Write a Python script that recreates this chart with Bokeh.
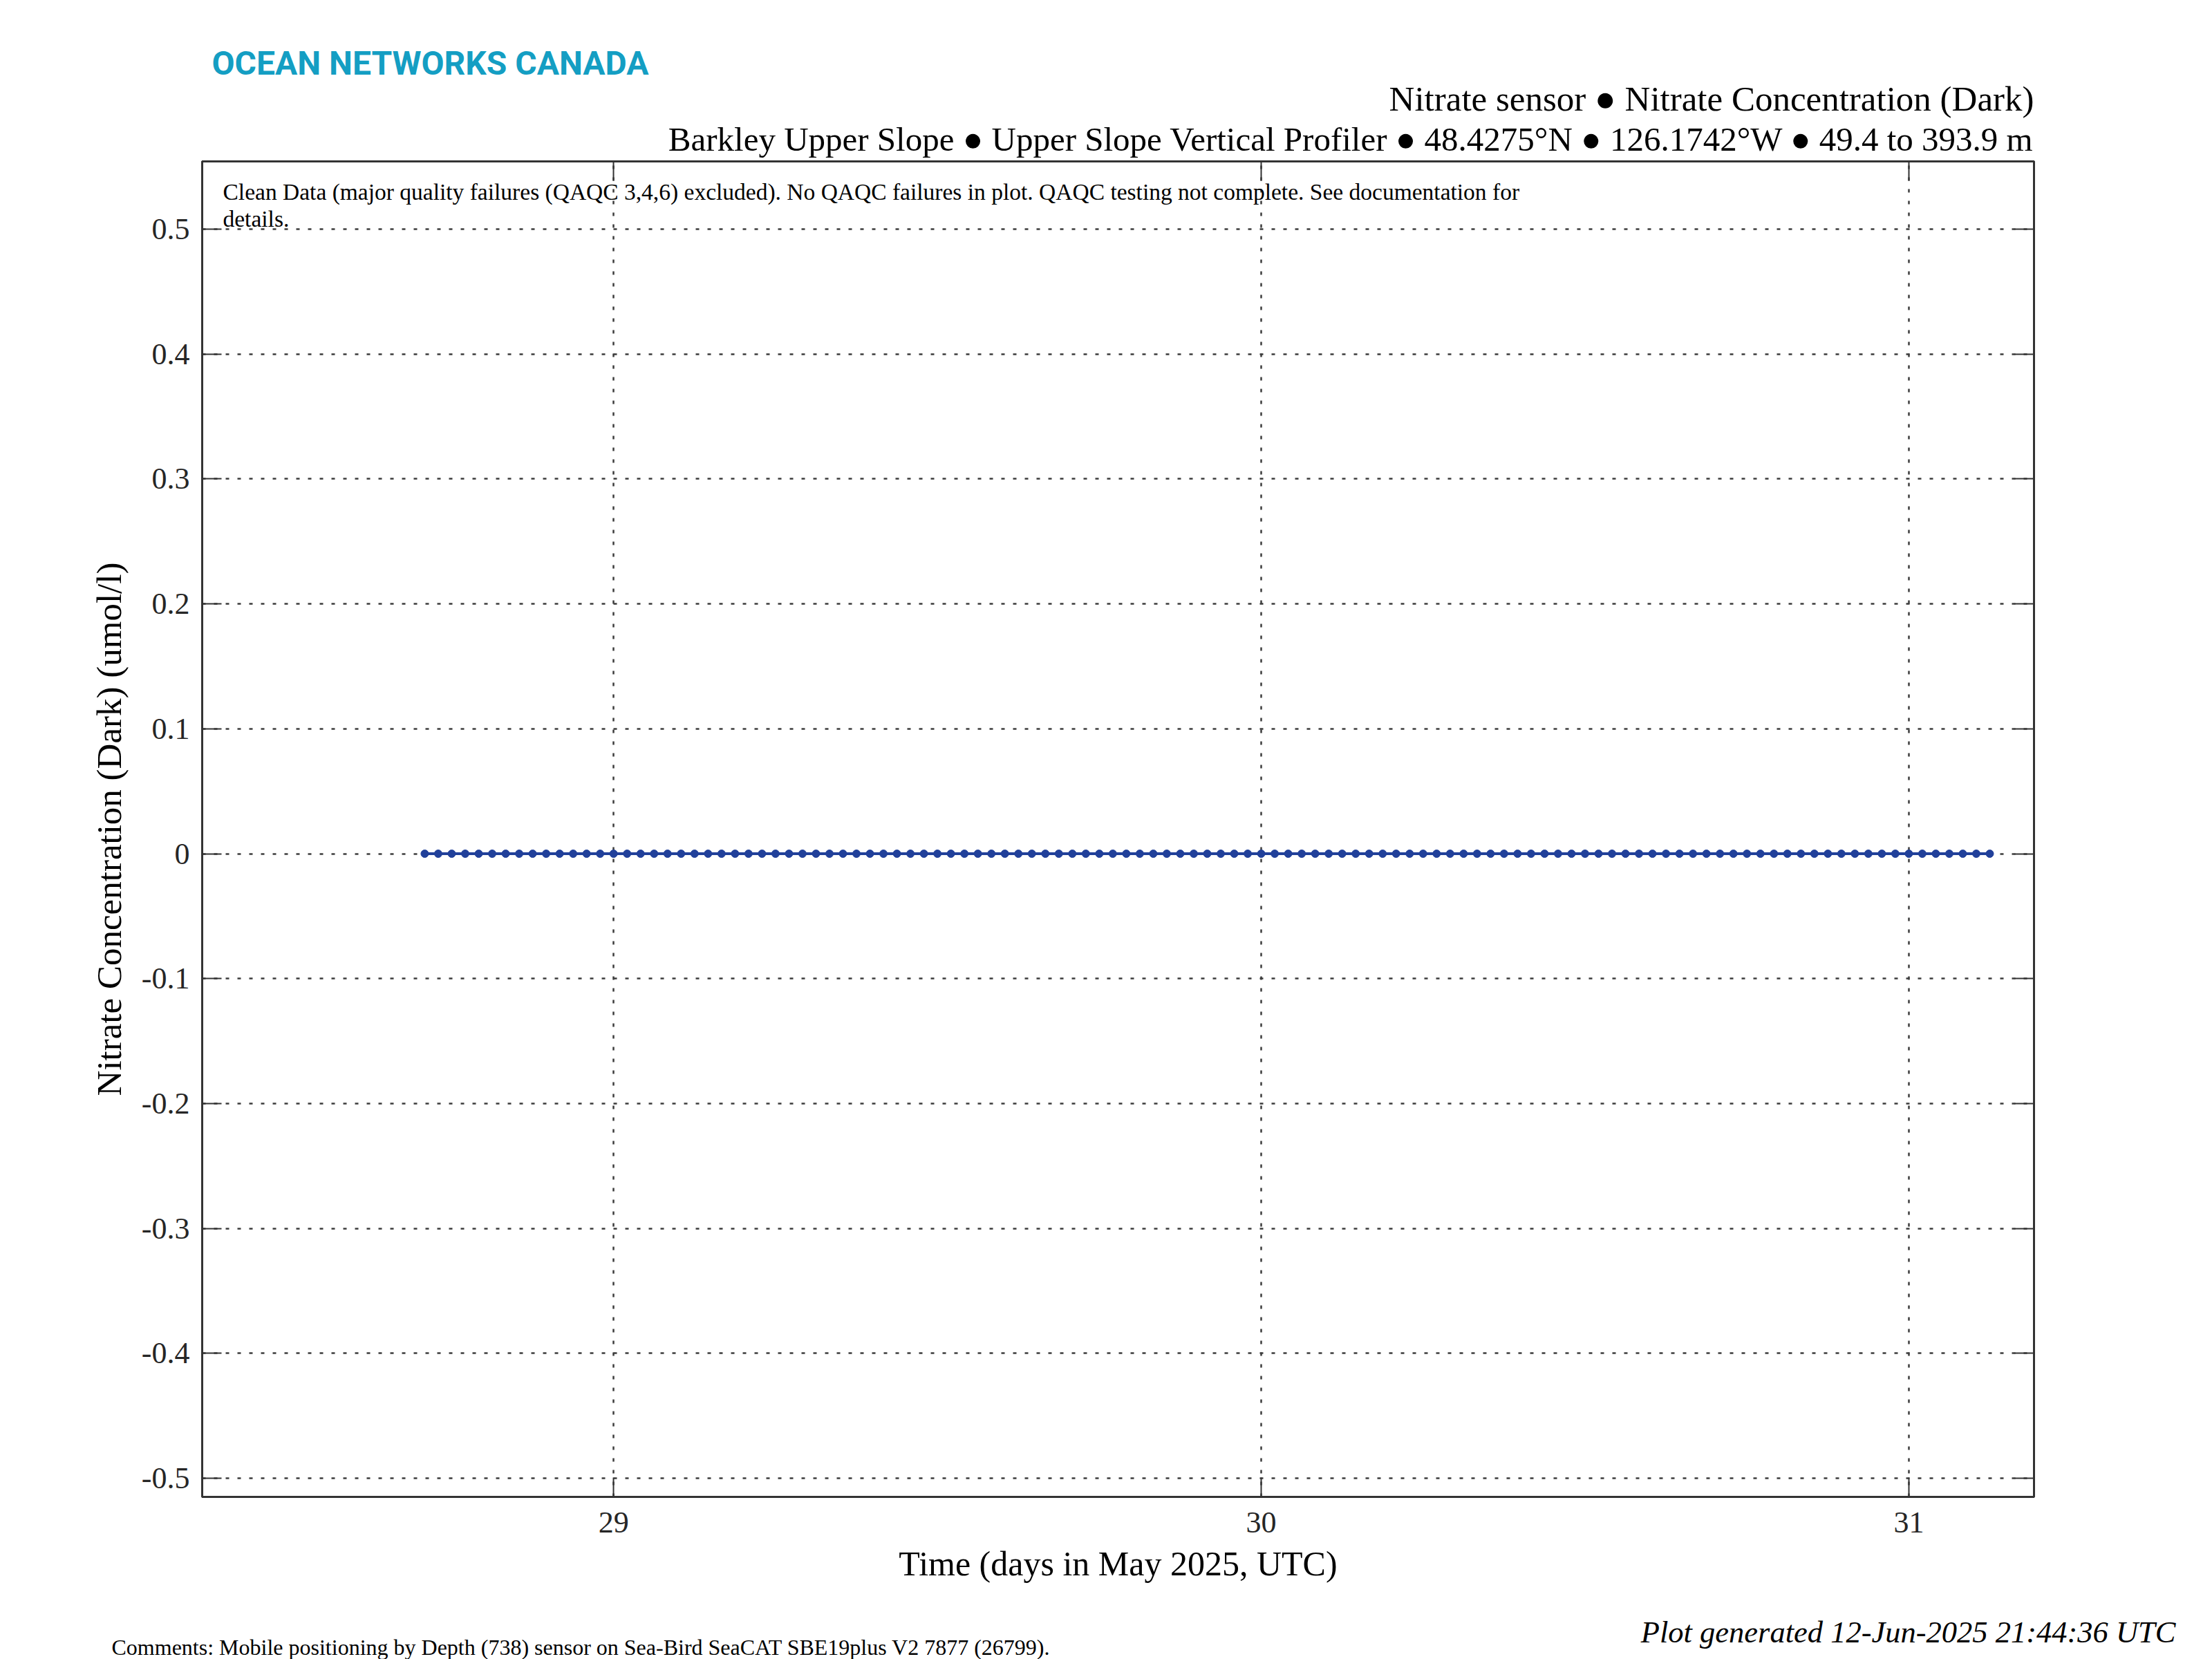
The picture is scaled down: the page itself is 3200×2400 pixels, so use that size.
import pandas as pd
from bokeh.plotting import figure
from bokeh.layouts import column, row
from bokeh.models import Label, LinearAxis, FixedTicker, CustomJSTickFormatter, Range1d, Plot
from bokeh.embed import file_html
from bokeh.resources import INLINE

# ---------------- data ----------------
time_start = "2025-05-28 17:00"
time_end = "2025-05-31 03:00"
sample_interval = "30min"
nitrate_dark = [
    0.0, 0.0, 0.0, 0.0, 0.0, 0.0, 0.0, 0.0, 0.0, 0.0, 0.0, 0.0, 0.0, 0.0, 0.0, 0.0,
    0.0, 0.0, 0.0, 0.0, 0.0, 0.0, 0.0, 0.0, 0.0, 0.0, 0.0, 0.0, 0.0, 0.0, 0.0, 0.0,
    0.0, 0.0, 0.0, 0.0, 0.0, 0.0, 0.0, 0.0, 0.0, 0.0, 0.0, 0.0, 0.0, 0.0, 0.0, 0.0,
    0.0, 0.0, 0.0, 0.0, 0.0, 0.0, 0.0, 0.0, 0.0, 0.0, 0.0, 0.0, 0.0, 0.0, 0.0, 0.0,
    0.0, 0.0, 0.0, 0.0, 0.0, 0.0, 0.0, 0.0, 0.0, 0.0, 0.0, 0.0, 0.0, 0.0, 0.0, 0.0,
    0.0, 0.0, 0.0, 0.0, 0.0, 0.0, 0.0, 0.0, 0.0, 0.0, 0.0, 0.0, 0.0, 0.0, 0.0, 0.0,
    0.0, 0.0, 0.0, 0.0, 0.0, 0.0, 0.0, 0.0, 0.0, 0.0, 0.0, 0.0, 0.0, 0.0, 0.0, 0.0,
    0.0, 0.0, 0.0, 0.0, 0.0,
]
x_ticks = [29, 30, 31]
x_tick_labels = ["29", "30", "31"]
y_ticks = [-0.5, -0.4, -0.3, -0.2, -0.1, 0, 0.1, 0.2, 0.3, 0.4, 0.5]
y_tick_labels = ["-0.5", "-0.4", "-0.3", "-0.2", "-0.1", "0", "0.1", "0.2", "0.3", "0.4", "0.5"]
x_limits = (28.3647, 31.1933)
y_limits = (-0.515, 0.5543)

logo_text = "OCEAN NETWORKS CANADA"
title_line1 = "Nitrate sensor \u25cf Nitrate Concentration (Dark)"
title_line2 = ("Barkley Upper Slope \u25cf Upper Slope Vertical Profiler \u25cf "
               "48.4275\u00b0N \u25cf 126.1742\u00b0W \u25cf 49.4 to 393.9 m")
note_line1 = ("Clean Data (major quality failures (QAQC 3,4,6) excluded). No QAQC failures in plot. "
              "QAQC testing not complete. See documentation for")
note_line2 = "details."
x_label = "Time (days in May 2025, UTC)"
y_label = "Nitrate Concentration (Dark) (umol/l)"
comments = "Comments: Mobile positioning by Depth (738) sensor on Sea-Bird SeaCAT SBE19plus V2 7877 (26799)."
generated = "Plot generated 12-Jun-2025 21:44:36 UTC"

times = pd.date_range(time_start, time_end, freq=sample_interval)
day_of_month = (times.day + times.hour / 24.0 + times.minute / 1440.0).tolist()

# ---------------- styling ----------------
SERIF = "Liberation Serif"
AX = "#333333"
BLUE = "#21409A"
W = 3200
HEADER_H, FOOTER_H = 231, 70
FL, FT, FW, FH = 292, 233, 2650, 1932     # frame left/top/width/height in page pixels
MAIN_BOTTOM = 2400 - FOOTER_H
HAS_FRAME_ALIGN = "frame_align" in Plot.properties()


def no_align(fig):
    if HAS_FRAME_ALIGN:
        fig.frame_align = False
    return fig


def add_label(fig, text, x, y, size, align="left", font=SERIF, color="#000000", style="normal"):
    fig.add_layout(Label(x=x, y=y, x_units="screen", y_units="screen", text=text,
                         text_font=font, text_font_size=size, text_color=color,
                         text_font_style=style, text_align=align, text_baseline="alphabetic"))


def text_panel(height):
    f = figure(width=W, height=height, min_border=0, title=None,
               x_range=Range1d(0, 1), y_range=Range1d(0, 1),
               x_axis_location=None, y_axis_location=None,
               output_backend="svg", toolbar_location=None,
               outline_line_color=None, background_fill_color="white",
               border_fill_color="white")
    f.grid.visible = False
    return no_align(f)


# header (y measured from panel bottom)
header = text_panel(HEADER_H)
add_label(header, logo_text, 306, HEADER_H - 107 + 16, "48px", font="Roboto", color="#149EC3", style="bold")
add_label(header, title_line1, FL + FW, HEADER_H - 152 + 10, "51px", align="right")
add_label(header, title_line2, FL + FW, HEADER_H - 215 + 14, "49px", align="right")

# main plot
p = figure(frame_width=FW, frame_height=FH, title=None,
           min_border_left=FL, min_border_right=W - FL - FW,
           min_border_top=FT - HEADER_H, min_border_bottom=MAIN_BOTTOM - FT - FH,
           x_range=Range1d(*x_limits), y_range=Range1d(*y_limits),
           output_backend="svg", toolbar_location=None,
           background_fill_color="white", border_fill_color="white")
no_align(p)
p.outline_line_color = AX
p.outline_line_width = 3

for g, tk in ((p.xgrid, x_ticks), (p.ygrid, y_ticks)):
    g.ticker = FixedTicker(ticks=tk)
    g.grid_line_color = "#3c3c3c"
    g.grid_line_width = 2.5
    g.grid_line_dash = "5 12"


def style_axis(ax, show_labels, label_size="50px"):
    ax.axis_line_color = AX
    ax.axis_line_width = 3
    ax.major_tick_line_color = AX
    ax.major_tick_line_width = 2
    ax.major_tick_in = 28
    ax.major_tick_out = 0
    ax.minor_tick_line_color = None
    ax.major_label_text_font = SERIF
    ax.major_label_text_font_size = "44px"
    ax.major_label_text_color = "#262626"
    ax.axis_label_text_font = SERIF
    ax.axis_label_text_font_size = label_size
    ax.axis_label_text_font_style = "normal"
    ax.axis_label_text_color = "#000000"
    if not show_labels:
        ax.formatter = CustomJSTickFormatter(code="return ''")
        ax.major_label_standoff = 0
        ax.major_label_text_font_size = "1px"


xa = p.xaxis[0]
xa.ticker = FixedTicker(ticks=x_ticks)
xa.major_label_overrides = dict(zip(x_ticks, x_tick_labels))
style_axis(xa, True, "50px")
xa.axis_label = x_label
xa.major_label_standoff = 22
xa.axis_label_standoff = 14

ya = p.yaxis[0]
ya.ticker = FixedTicker(ticks=y_ticks)
ya.major_label_overrides = dict(zip(y_ticks, y_tick_labels))
style_axis(ya, True, "51px")
ya.axis_label = y_label
ya.major_label_standoff = 18
ya.axis_label_standoff = 16

top_ax = LinearAxis(ticker=FixedTicker(ticks=x_ticks))
style_axis(top_ax, False)
p.add_layout(top_ax, "above")
right_ax = LinearAxis(ticker=FixedTicker(ticks=y_ticks))
style_axis(right_ax, False)
p.add_layout(right_ax, "right")

p.line(day_of_month, nitrate_dark, line_color=BLUE, line_width=4)
p.scatter(day_of_month, nitrate_dark, size=11, fill_color=BLUE, line_color=BLUE)

# quality note inside the frame (y measured from frame bottom)
add_label(p, note_line1, 30, FH - (283 - FT) + 6, "33.5px")
add_label(p, note_line2, 30, FH - (322 - FT) + 6, "33.5px")

# footer (y measured from panel bottom)
footer = text_panel(FOOTER_H)
add_label(footer, comments, 161, 2400 - 2388 + 6, "32px")
add_label(footer, generated, 3147, 2400 - 2373 + 13, "44.5px", align="right", style="italic")

if HAS_FRAME_ALIGN:
    layout = column(header, p, footer, spacing=0)
else:
    layout = column(row(header), row(p), row(footer), spacing=0)
open("out.html", "w").write(file_html(layout, INLINE))
